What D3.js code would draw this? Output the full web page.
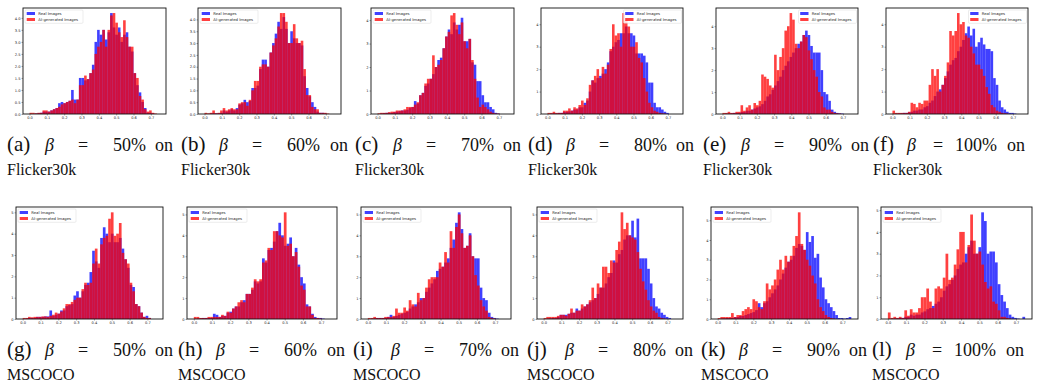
<!DOCTYPE html>
<html><head><meta charset="utf-8">
<script src="https://cdn.jsdelivr.net/npm/d3@7"></script>
<style>body{margin:0;background:#fff}svg{display:block}</style>
</head><body><svg id="chart" width="1039" height="383"></svg>
<script>
// ---------- data ----------
const binEdges = d3.range(51).map(i => +(i * 0.015).toFixed(3));
const xTicks = [0, 0.1, 0.2, 0.3, 0.4, 0.5, 0.6, 0.7];
const yTicksHalf = [0, 0.5, 1, 1.5, 2, 2.5, 3, 3.5, 4];
const yTicks4 = [0, 1, 2, 3, 4];
const yTicks5 = [0, 1, 2, 3, 4, 5];
const legendLabels = ["Real Images", "AI-generated Images"];
const subLabels = ["(a)", "(b)", "(c)", "(d)", "(e)", "(f)", "(g)", "(h)", "(i)", "(j)", "(k)", "(l)"];
const betas = ["50%", "60%", "70%", "80%", "90%", "100%", "50%", "60%", "70%", "80%", "90%", "100%"];
const datasets = ["Flicker30k", "Flicker30k", "Flicker30k", "Flicker30k", "Flicker30k", "Flicker30k",
                  "MSCOCO", "MSCOCO", "MSCOCO", "MSCOCO", "MSCOCO", "MSCOCO"];

const realA = [0,0,0.02,0.03,0.05,0.1,0.1,0.1,0.15,0.2, 0.25,0.45,0.5,0.45,0.5,0.55,1.0,0.6,0.6,1.5, 1.5,1.4,1.45,1.7,2.05,3.0,3.5,3.3,3.5,3.1, 3.4,4.2,3.6,3.3,3.6,3.0,3.3,3.4,2.8,2.6, 1.7,1.2,0.9,0.5,0.25,0.05,0.05,0.02,0,0];
const aiA   = [0.05,0.05,0.03,0.05,0.05,0.15,0.15,0.1,0.15,0.2, 0.25,0.3,0.4,0.45,0.5,0.55,0.6,0.45,0.6,1.2, 1.2,1.6,1.45,1.7,1.85,2.5,2.8,3.0,3.5,2.8, 3.5,4.1,4.2,3.8,3.4,3.2,3.9,3.2,2.8,2.8, 1.7,1.5,0.75,0.6,0.2,0.1,0.15,0.05,0.02,0];
const realB = [0,0,0.02,0.03,0.03, 0.03,0.05,0.15,0.1,0.15, 0.2,0.15,0.25,0.4,0.45, 0.6,0.5,0.55,1.1,1.1, 1.2,1.9,2.3,2.3,2.0, 2.6,3.0,3.4,3.9,3.6, 4.1,3.6,3.0,3.5,3.2, 3.0,3.0,2.9,1.6,1.1, 0.75,0.5,0.3,0.1,0.05, 0.05,0.02,0,0,0];
const aiB   = [0.05,0.03,0.05,0.15,0.03, 0.05,0.15,0.25,0.15,0.2, 0.25,0.2,0.2,0.45,0.5, 0.5,0.35,0.6,1.0,1.4, 1.4,2.0,2.1,2.1,2.0, 2.6,2.9,3.2,3.7,4.27, 4.27,3.9,3.0,3.0,3.8, 3.2,3.0,3.1,1.9,0.8, 0.8,0.3,0.2,0.2,0.05, 0.05,0.05,0.02,0,0];
const realC = [0,0.02,0.03,0.05,0.05, 0.05,0.08,0.1,0.12,0.15, 0.15,0.18,0.25,0.3,0.55, 0.45,0.8,0.9,1.2,1.3, 1.5,1.7,2.0,2.3,2.4, 2.8,3.3,3.6,3.4,3.9, 3.6,3.8,4.1,3.1,3.1, 3.2,2.2,2.1,1.4,1.4, 0.8,0.5,0.5,0.3,0.2, 0.05,0.02,0,0,0];
const aiC   = [0.03,0.05,0.05,0.05,0.08, 0.1,0.1,0.15,0.15,0.15, 0.2,0.3,0.3,0.3,0.4, 0.5,0.8,0.9,1.3,1.5, 1.5,2.5,2.0,2.1,2.3, 2.8,3.3,3.5,4.2,4.3, 3.8,3.4,3.9,3.1,2.8, 3.2,2.3,1.5,0.7,0.3, 0.4,0.3,0.2,0.1,0.05, 0.02,0.02,0,0,0];
const realD = [0,0.02,0.03,0.03,0.05, 0.05,0.1,0.1,0.12,0.15, 0.2,0.2,0.3,0.3,0.5, 0.6,1.0,1.5,1.4,1.6, 1.7,1.8,2.0,2.3,2.8, 3.0,3.2,3.3,3.6,3.6, 3.9,3.6,3.6,3.5,2.7, 2.7,2.7,2.6,2.3,1.4, 1.4,0.5,0.3,0.3,0.2, 0.1,0.05,0,0,0];
const aiD   = [0.05,0.05,0.1,0.05,0.05, 0.05,0.15,0.15,0.25,0.15, 0.3,0.25,0.4,0.6,0.4, 0.7,1.3,1.5,1.7,2.0, 1.6,2.1,1.8,2.2,2.9, 4.0,3.5,3.6,3.0,4.5, 4.2,3.9,3.0,3.0,3.2, 2.5,2.3,1.6,1.0,0.5, 0.3,0.15,0.1,0.05,0.03, 0.02,0,0,0,0];
const realE = [0,0.02,0.02,0.03,0.05, 0.05,0.05,0.1,0.1,0.15, 0.15,0.2,0.25,0.3,0.35, 0.45,0.6,0.8,0.9,1.1, 1.3,1.5,1.7,2.0,2.2, 2.4,2.6,2.8,3.0,3.2, 3.3,3.6,3.8,3.6,3.1, 2.8,2.8,2.8,2.0,1.0, 0.9,0.6,0.2,0.1,0.05, 0.03,0.02,0,0,0];
const aiE   = [0.05,0.05,0.1,0.05,0.05, 0.1,0.1,0.4,0.15,0.3, 0.4,0.2,0.5,0.4,0.6, 1.8,1.7,1.6,1.3,1.2, 2.7,2.0,2.6,3.0,3.8, 4.0,4.6,4.3,3.2,3.0, 3.3,3.6,3.5,2.9,2.5, 2.0,1.7,1.0,0.8,0.3, 0.2,0.2,0.1,0.05,0.03, 0.02,0,0,0,0];
const realF = [0,0.02,0.02,0.03,0.05, 0.05,0.08,0.1,0.15,0.15, 0.2,0.2,0.3,0.35,0.5, 0.6,0.8,1.0,1.1,1.3, 1.6,1.9,2.2,2.4,2.5, 2.8,3.0,3.3,3.6,3.9, 3.5,3.8,3.0,3.2,3.4, 3.1,2.9,2.9,2.8,1.6, 1.3,0.6,0.3,0.2,0.1, 0.05,0.05,0.02,0,0];
const aiF   = [0.15,0.05,0.05,0.05,0.05, 0.05,0.1,0.5,0.45,0.3, 0.5,0.45,0.6,0.6,1.3, 2.0,1.7,2.0,1.0,1.3, 1.7,2.3,3.7,3.5,3.7, 4.5,4.0,4.1,3.5,3.4, 3.0,2.7,2.2,2.2,2.0, 1.7,1.2,0.9,0.4,0.3, 0.15,0.1,0.05,0.03,0.02, 0,0,0,0,0];
const realG = [0,0.02,0.05,0.05,0.05, 0.1,0.1,0.1,0.12,0.12, 0.4,0.15,0.2,0.25,0.4, 0.4,0.6,0.65,0.7,1.1, 1.3,1.0,1.3,1.6,1.7, 2.2,3.2,2.7,2.4,3.8, 4.3,4.0,3.6,4.0,3.6, 3.6,3.8,3.3,2.8,2.4, 1.6,1.5,0.7,0.6,0.3, 0.1,0.15,0.05,0,0];
const aiG   = [0.05,0.05,0.1,0.08,0.1, 0.1,0.1,0.12,0.12,0.1, 0.15,0.2,0.3,0.25,0.35, 0.5,0.7,0.7,0.8,0.9, 1.0,1.0,1.4,1.7,1.6, 1.7,2.6,3.3,2.6,3.5, 3.8,3.9,4.7,5.0,3.9, 4.0,4.5,3.1,2.8,2.6, 1.7,1.3,0.7,0.6,0.3, 0.1,0.05,0.05,0,0];
const realH = [0,0.02,0.03,0.05,0.05, 0.05,0.05,0.25,0.2,0.1, 0.15,0.15,0.3,0.35,0.5, 0.6,0.6,0.8,0.9,1.2, 1.2,1.4,1.8,1.7,1.8, 2.9,2.7,3.3,3.4,3.7, 4.2,4.6,4.0,3.5,3.6, 3.9,3.0,3.4,2.6,2.0, 1.7,0.7,0.6,0.25,0.1, 0.05,0.05,0.02,0,0];
const aiH   = [0.1,0.1,0.05,0.05,0.05, 0.1,0.1,0.1,0.1,0.1, 0.2,0.15,0.35,0.3,0.5, 0.6,0.8,0.9,0.8,1.2, 1.2,1.5,1.9,1.8,1.9, 2.7,2.8,3.4,3.3,4.2, 4.2,4.0,3.9,5.1,3.5, 3.6,3.0,3.2,2.5,1.6, 1.4,0.6,0.6,0.2,0.05, 0.05,0.02,0,0,0];
const realI = [0,0.02,0.03,0.05,0.05, 0.05,0.05,0.1,0.2,0.1, 0.15,0.2,0.25,0.3,0.35, 0.5,0.6,0.7,0.8,1.0, 1.0,1.3,1.5,1.7,1.9, 2.3,2.4,2.5,2.7,2.9, 3.4,3.8,4.6,5.1,4.3, 3.4,3.5,4.1,3.0,2.9, 2.9,1.5,1.0,0.9,0.3, 0.1,0.05,0.02,0,0];
const aiI   = [0.05,0.05,0.1,0.05,0.05, 0.05,0.1,0.1,0.1,0.15, 0.5,0.3,0.3,0.55,0.4, 0.9,0.7,0.6,1.25,0.9, 1.0,1.5,1.9,2.0,2.0, 2.0,2.7,2.5,3.2,2.7, 4.2,3.4,4.4,5.0,4.1, 3.4,3.5,4.0,3.0,2.1, 1.6,0.9,0.6,0.4,0.1, 0.05,0.02,0,0,0];
const realJ = [0,0.02,0.03,0.05,0.05, 0.1,0.2,0.2,0.2,0.25, 0.3,0.3,0.5,0.4,0.5, 0.6,0.7,0.8,0.9,1.0, 1.2,1.5,1.5,1.7,2.0, 2.2,2.8,2.7,3.1,3.3, 3.8,4.0,4.0,4.7,3.9, 4.8,2.9,2.9,2.9,2.4, 1.7,1.0,0.6,0.5,0.3, 0.2,0.1,0.05,0,0];
const aiJ   = [0.05,0.1,0.1,0.1,0.1, 0.15,0.2,0.2,0.15,0.25, 0.5,0.3,0.4,0.4,0.7, 0.6,0.7,0.9,1.5,1.0, 1.7,1.5,2.5,2.5,2.2, 2.8,2.7,3.3,3.7,5.1, 4.3,4.6,4.0,3.9,3.8, 3.2,2.4,1.8,1.4,0.9, 0.6,0.4,0.3,0.1,0.05, 0.02,0,0,0,0];
const realK = [0,0.02,0.03,0.05,0.05, 0.05,0.1,0.1,0.15,0.15, 0.2,0.25,0.3,0.35,0.45, 0.8,0.6,0.8,0.9,1.1, 1.3,1.5,1.7,2.0,2.3, 2.6,2.9,3.0,3.2,3.6, 3.8,3.7,3.5,4.4,3.9, 4.2,3.1,3.3,2.1,1.6, 1.0,0.8,0.6,0.4,0.2, 0.05,0.05,0.02,0.05,0.1];
const aiK   = [0.05,0.1,0.1,0.1,0.1, 0.3,0.1,0.2,0.2,0.4, 0.5,0.6,0.5,1.0,0.9, 0.6,0.5,0.9,1.8,1.5, 1.7,2.0,2.5,3.0,2.5, 3.2,2.9,3.2,3.7,4.2, 5.4,3.8,3.5,3.0,2.7, 2.2,1.8,1.0,0.6,0.4, 0.2,0.1,0.05,0.02,0, 0,0,0,0,0];
const realL = [0,0.02,0.02,0.03,0.05, 0.05,0.1,0.1,0.2,0.15, 0.2,0.2,0.3,0.35,0.45, 0.5,0.6,0.7,0.8,1.0, 1.3,1.5,1.6,1.8,2.0, 2.3,2.5,2.6,3.0,3.3, 3.6,3.0,3.0,3.3,4.9, 4.5,3.0,3.1,3.1,2.6, 1.6,1.1,0.8,0.5,0.2, 0.1,0.05,0.02,0,0.1];
const aiL   = [0.3,0.05,0.1,0.05,0.1, 0.05,0.4,0.15,0.45,0.3, 0.3,0.5,1.0,1.0,1.4, 0.8,0.5,1.4,1.5,1.4, 1.9,3.0,1.8,1.9,2.5, 3.2,4.0,4.0,2.6,3.4, 4.8,3.6,3.0,3.1,2.5, 1.7,1.4,1.5,0.8,0.7, 0.4,0.1,0.1,0.05,0.02, 0,0,0,0,0];

const realSeries = [realA, realB, realC, realD, realE, realF, realG, realH, realI, realJ, realK, realL];
const aiSeries   = [aiA, aiB, aiC, aiD, aiE, aiF, aiG, aiH, aiI, aiJ, aiK, aiL];

// ---------- layout ----------
const frames = [
  {x: 23, y: 8, w: 143, h: 106}, {x: 198, y: 8, w: 143, h: 106}, {x: 371, y: 8, w: 143, h: 106},
  {x: 541, y: 8, w: 142, h: 106}, {x: 716, y: 8, w: 142, h: 106}, {x: 886, y: 8, w: 142, h: 106},
  {x: 16, y: 207, w: 147, h: 112}, {x: 187, y: 207, w: 150, h: 112}, {x: 361, y: 207, w: 150, h: 112},
  {x: 537, y: 207, w: 146, h: 112}, {x: 711, y: 207, w: 147, h: 112}, {x: 881, y: 207, w: 151, h: 112}
];
const yTickSets = [yTicksHalf, yTicksHalf, yTicks4, yTicks4, yTicks4, yTicks4, yTicks5, yTicks5, yTicks5, yTicks5, yTicks5, yTicks5];
const legendRight = [false, false, false, true, true, true, false, false, false, false, false, false];
const capX = [7, 181, 355, 528, 703, 873, 7, 178, 353, 527, 701, 872];
const capW = [166, 167, 166, 166, 166, 152, 166, 167, 166, 166, 166, 152];
const capY1 = [151, 356];
const capY2 = [175, 380];
const SERIF = "'Liberation Serif', 'Times New Roman', Times, 'DejaVu Serif', serif";

const svg = d3.select("#chart");
const BLUE = "rgba(0,0,255,0.75)", RED = "rgba(255,0,0,0.75)";

frames.forEach((f, k) => {
  const g = svg.append("g").attr("transform", `translate(${f.x},${f.y})`);
  const x = d3.scaleLinear().domain([-0.0375, 0.7875]).range([0, f.w]);
  const maxV = d3.max(realSeries[k].concat(aiSeries[k]));
  const y = d3.scaleLinear().domain([0, maxV * 1.05]).range([f.h, 0]);

  [[realSeries[k], BLUE], [aiSeries[k], RED]].forEach(([vals, col]) => {
    g.append("g").selectAll("rect")
      .data(vals.map((v, i) => ({v, i})).filter(d => d.v > 0))
      .join("rect")
      .attr("x", d => x(binEdges[d.i]))
      .attr("width", d => x(binEdges[d.i + 1]) - x(binEdges[d.i]))
      .attr("y", d => y(d.v))
      .attr("height", d => f.h - y(d.v))
      .attr("fill", col);
  });

  const xa = g.append("g").attr("transform", `translate(0,${f.h})`)
    .call(d3.axisBottom(x).tickValues(xTicks).tickSize(1.5).tickPadding(1).tickFormat(d3.format(".1f")));
  const isHalf = yTickSets[k] === yTicksHalf;
  const ya = g.append("g")
    .call(d3.axisLeft(y).tickValues(yTickSets[k]).tickSize(1.5).tickPadding(1)
      .tickFormat(isHalf ? d3.format(".1f") : d3.format("d")));
  [xa, ya].forEach(a => {
    a.select(".domain").remove();
    a.selectAll("line").attr("stroke", "#222").attr("stroke-width", 0.4);
    a.selectAll("text").attr("font-family", "DejaVu Sans").attr("font-size", 3.6).attr("fill", "#222");
  });

  g.append("rect").attr("width", f.w).attr("height", f.h)
    .attr("fill", "none").attr("stroke", "#111").attr("stroke-width", 0.9);

  // legend
  const lw = 58, lh = 13.3;
  const lx = legendRight[k] ? f.w - lw - 1.5 : 2;
  const lg = g.append("g").attr("transform", `translate(${lx},2)`);
  lg.append("rect").attr("width", lw).attr("height", lh).attr("rx", 1)
    .attr("fill", "rgba(255,255,255,0.85)").attr("stroke", "#d0d0d0").attr("stroke-width", 0.4);
  legendLabels.forEach((t, i) => {
    lg.append("rect").attr("x", 1.7).attr("y", 2 + i * 6).attr("width", 8.3).attr("height", 3)
      .attr("fill", i === 0 ? BLUE : RED);
    lg.append("text").attr("x", 13.3).attr("y", 3.5 + i * 6 + 1.3).text(t)
      .attr("font-family", "DejaVu Sans").attr("font-size", 3.8).attr("fill", "#222");
  });

  // caption
  const row = k < 6 ? 0 : 1;
  const wide = betas[k].length > 3;
  const offs = wide ? [0, 34, 60, 82] : [0, 38, 71, 106];
  const cap = svg.append("g").attr("font-family", SERIF).attr("fill", "#111");
  const words = [
    {t: subLabels[k], size: 21, italic: false},
    {t: "\u03B2", size: 18, italic: true},
    {t: "=", size: 18, italic: false},
    {t: betas[k], size: 18, italic: false}
  ];
  words.forEach((w, i) => {
    cap.append("text").text(w.t).attr("font-size", w.size)
      .attr("font-style", w.italic ? "italic" : "normal")
      .attr("x", capX[k] + offs[i]).attr("y", capY1[row]);
  });
  cap.append("text").text("on").attr("font-size", 18).attr("text-anchor", "end")
    .attr("x", capX[k] + capW[k]).attr("y", capY1[row]);
  cap.append("text").text(datasets[k]).attr("font-size", 16).attr("x", capX[k]).attr("y", capY2[row]);
});
</script>
</body></html>
